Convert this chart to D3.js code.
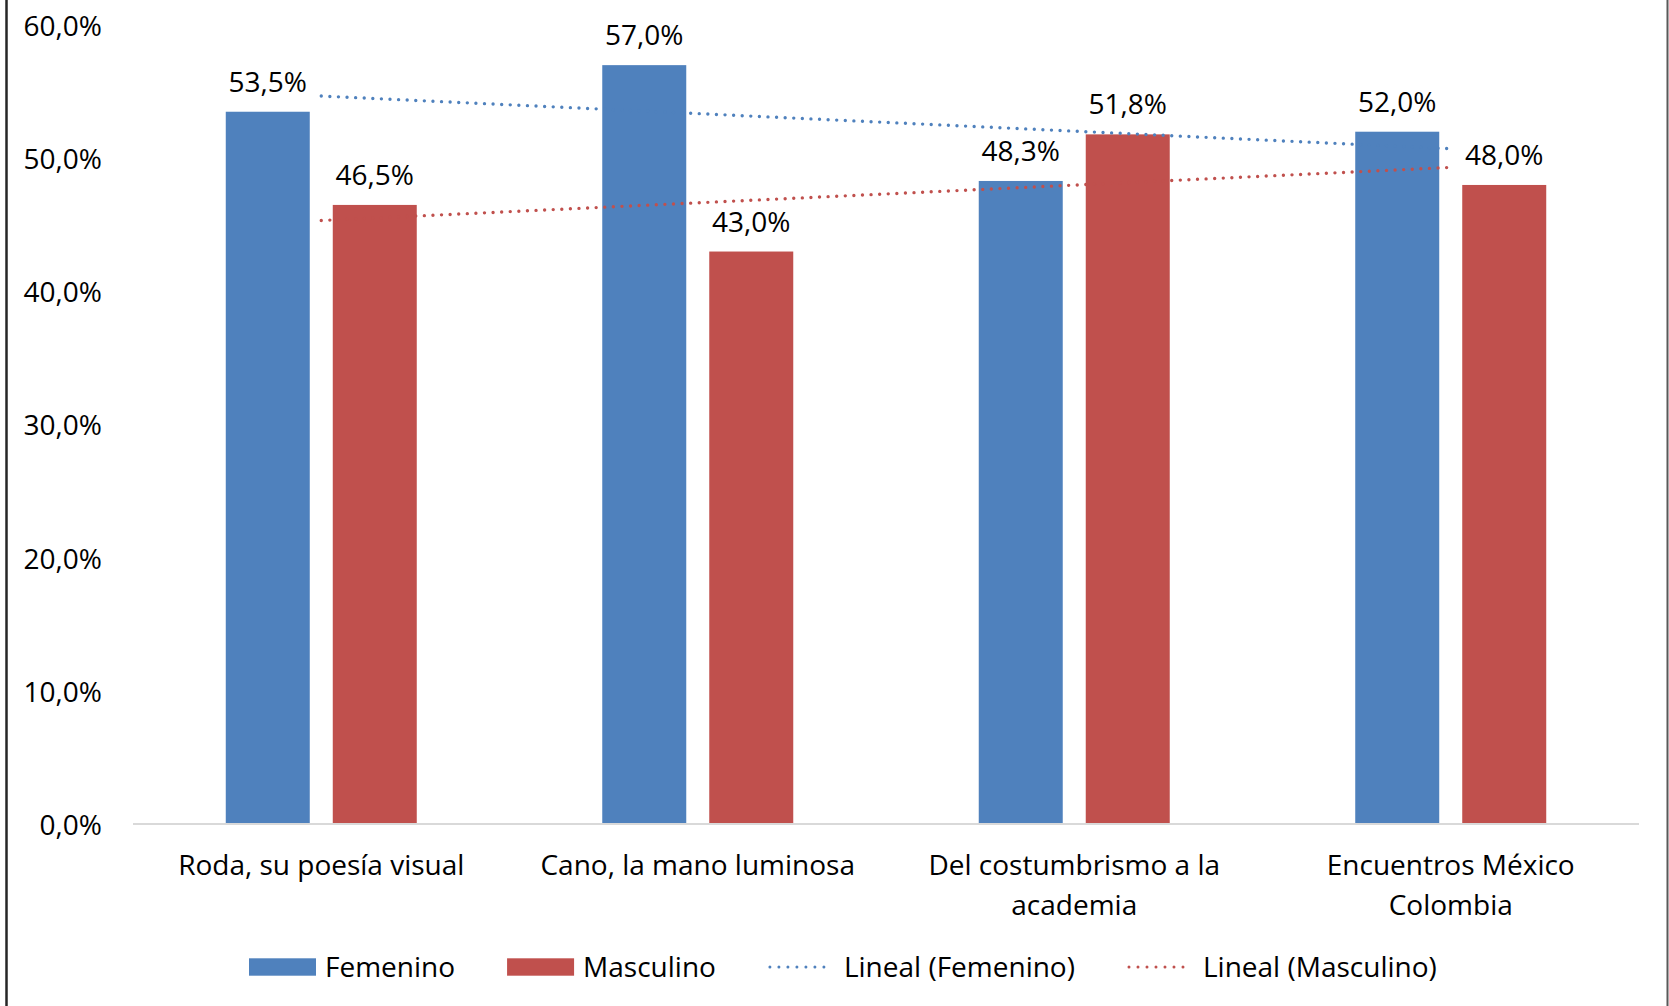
<!DOCTYPE html>
<html>
<head>
<meta charset="utf-8">
<script src="https://cdn.jsdelivr.net/npm/d3@7"></script>
<style>
  html, body { margin: 0; padding: 0; background: #fff; }
  svg { display: block; }
  text { font-family: "Open Sans", "Noto Sans", sans-serif; fill: #000; }
</style>
</head>
<body>
<svg id="chart" width="1669" height="1006"></svg>
<script>
// Exhibitions and share of visitors by gender (%)
const categories = [
  "Roda, su poesía visual",
  "Cano, la mano luminosa",
  "Del costumbrismo a la academia",
  "Encuentros México Colombia"
];
const seriesNames = ["Femenino", "Masculino"];
const femenino = [53.5, 57.0, 48.3, 52.0];
const masculino = [46.5, 43.0, 51.8, 48.0];
const yTicks = [0, 10, 20, 30, 40, 50, 60];
const legendLabels = ["Femenino", "Masculino", "Lineal (Femenino)", "Lineal (Masculino)"];

const colors = { Femenino: "#4F81BD", Masculino: "#C0504D" };
const fontSize = 28;

const svg = d3.select("#chart");
const W = 1669, H = 1006;

// chart frame
svg.append("line").attr("x1", 6.5).attr("x2", 6.5).attr("y1", 0).attr("y2", H)
  .attr("stroke", "#262626").attr("stroke-width", 2.5);
svg.append("line").attr("x1", 1667.5).attr("x2", 1667.5).attr("y1", 0).attr("y2", H)
  .attr("stroke", "#595959").attr("stroke-width", 2);

const plot = { left: 133, right: 1639, top: 25.2, bottom: 824 };

const x0 = d3.scaleBand().domain(categories)
  .range([plot.left, plot.right])
  .paddingInner(0.4927).paddingOuter(0.2464);
const x1 = d3.scaleBand().domain(seriesNames)
  .range([0, x0.bandwidth()])
  .paddingInner(0.215).paddingOuter(0);
const y = d3.scaleLinear().domain([0, 60]).range([plot.bottom, plot.top]);

const fmt = v => d3.format(".1f")(v).replace(".", ",") + "%";

// y axis labels (no axis line, no gridlines)
const yAxis = d3.axisLeft(y).tickValues(yTicks).tickSize(0).tickPadding(0).tickFormat(fmt);
const yg = svg.append("g").attr("transform", `translate(102,0)`).call(yAxis);
yg.select(".domain").remove();
yg.selectAll("text")
  .attr("font-size", fontSize)
  .attr("font-family", '"Open Sans", "Noto Sans", sans-serif')
  .attr("fill", "#000")
  .attr("dy", null)
  .attr("y", 10.3);

// data rows
const rows = categories.map((c, i) => ({ cat: c, Femenino: femenino[i], Masculino: masculino[i] }));

// bars
const groups = svg.append("g").selectAll("g").data(rows).join("g")
  .attr("transform", d => `translate(${x0(d.cat)},0)`);
groups.selectAll("rect")
  .data(d => seriesNames.map(s => ({ s, v: d[s] })))
  .join("rect")
  .attr("x", d => x1(d.s))
  .attr("width", x1.bandwidth())
  .attr("y", d => y(d.v))
  .attr("height", d => y(0) - y(d.v))
  .attr("fill", d => colors[d.s]);

// value labels
groups.selectAll("text.val")
  .data(d => seriesNames.map(s => ({ s, v: d[s] })))
  .join("text")
  .attr("class", "val")
  .attr("x", d => x1(d.s) + x1.bandwidth() / 2)
  .attr("y", d => y(d.v) - 20)
  .attr("text-anchor", "middle")
  .attr("font-size", fontSize)
  .text(d => fmt(d.v));

// category axis line
svg.append("line")
  .attr("x1", plot.left).attr("x2", plot.right)
  .attr("y1", y(0)).attr("y2", y(0))
  .attr("stroke", "#D9D9D9").attr("stroke-width", 2);

// category labels with wrapping
const wrapWidth = 340;
const catG = svg.append("g");
categories.forEach(c => {
  const cx = x0(c) + x0.bandwidth() / 2;
  const t = catG.append("text").attr("text-anchor", "middle").attr("font-size", fontSize);
  const words = c.split(" ");
  let line = [], lineNo = 0;
  let tspan = t.append("tspan").attr("x", cx).attr("y", 875);
  words.forEach(w => {
    line.push(w);
    tspan.text(line.join(" "));
    if (tspan.node().getComputedTextLength() > wrapWidth && line.length > 1) {
      line.pop();
      tspan.text(line.join(" "));
      line = [w];
      lineNo++;
      tspan = t.append("tspan").attr("x", cx).attr("y", 875 + lineNo * 39.5).text(w);
    }
  });
});

// linear trend lines (least squares over category index)
function linearFit(vals) {
  const xs = vals.map((_, i) => i + 1);
  const mx = d3.mean(xs), my = d3.mean(vals);
  const b = d3.sum(xs, (xv, i) => (xv - mx) * (vals[i] - my)) / d3.sum(xs, xv => (xv - mx) ** 2);
  const a = my - b * mx;
  return xs.map(xv => a + b * xv);
}
const dotStyle = sel => sel
  .attr("fill", "none")
  .attr("stroke-width", 3.4)
  .attr("stroke-linecap", "round")
  .attr("stroke-dasharray", "0 8.6");

const line = d3.line()
  .x(d => x0(d.cat) + x0.bandwidth() / 2)
  .y(d => y(d.v));

[["Femenino", femenino], ["Masculino", masculino]].forEach(([name, vals]) => {
  const fit = linearFit(vals);
  const pts = [0, categories.length - 1].map(i => ({ cat: categories[i], v: fit[i] }));
  svg.append("path").datum(pts).attr("d", line)
    .attr("stroke", colors[name]).call(dotStyle);
});

// legend
const legendY = 967;
const legend = svg.append("g");
let lx = 249;
legendLabels.forEach((lab, i) => {
  const isLine = i >= 2;
  const col = colors[seriesNames[i % 2]];
  if (!isLine) {
    legend.append("rect").attr("x", lx).attr("y", legendY - 8.7)
      .attr("width", 67).attr("height", 17.4).attr("fill", col);
  } else {
    legend.append("path").attr("d", `M${lx + 2},${legendY}H${lx + 65}`)
      .attr("stroke", col).call(dotStyle).attr("stroke-width", 3).attr("stroke-dasharray", "0 9");
  }
  const t = legend.append("text").attr("x", lx + 76).attr("y", legendY + 10)
    .attr("font-size", fontSize).text(lab);
  lx = lx + 76 + t.node().getComputedTextLength() + 52;
});
</script>
</body>
</html>
